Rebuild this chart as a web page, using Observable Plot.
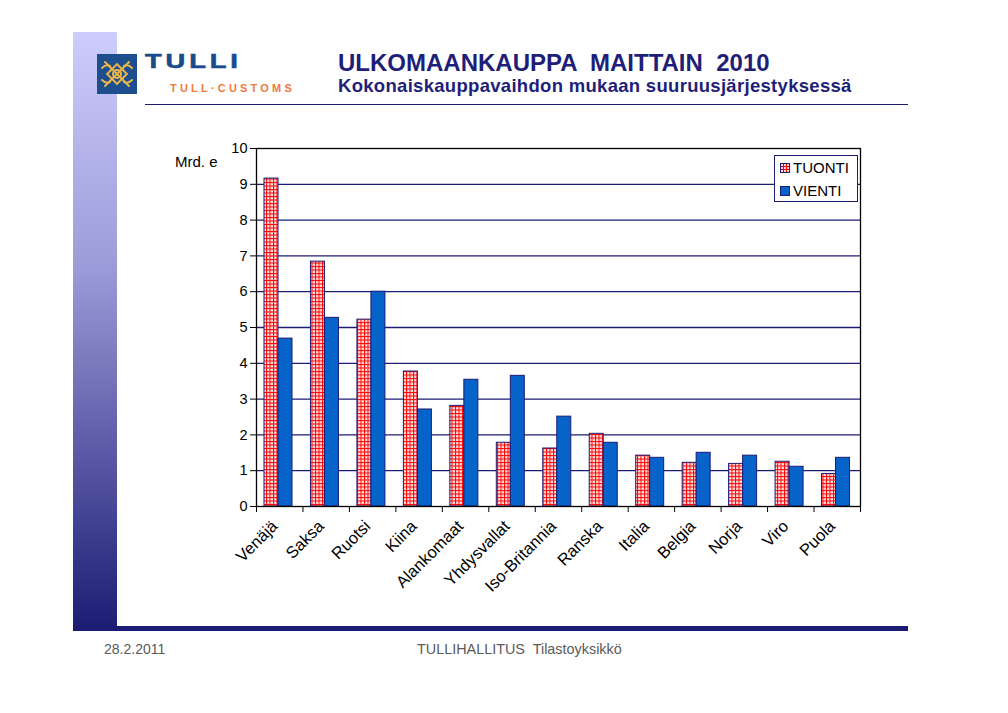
<!DOCTYPE html>
<html>
<head>
<meta charset="utf-8">
<script src="https://cdn.jsdelivr.net/npm/d3@7"></script>
<script src="https://cdn.jsdelivr.net/npm/@observablehq/plot@0.6"></script>
<style>
  html, body { margin: 0; padding: 0; background: #fff; }
  #page { position: relative; width: 1008px; height: 713px; overflow: hidden; background: #fff;
          font-family: "Liberation Sans", Arial, sans-serif; }
  #page > svg { position: absolute; left: 0; top: 0; }
  .abs { position: absolute; z-index: 2; }
  .narrow { font-family: "Liberation Sans Narrow", "Liberation Sans", Arial, sans-serif; }
  #page g[aria-label="x-axis tick label"] { font-size: 16.5px; }
  #page g[aria-label="y-axis tick label"] { font-size: 14.5px; }
</style>
</head>
<body>
<div id="page">
  <div class="abs" style="left:73px;top:32px;width:44px;height:598px;background:linear-gradient(to bottom,#cdcdfd 0%,#9a9ad8 40%,#50509e 75%,#1c1c74 100%);"></div>
  <div class="abs" style="left:73px;top:626px;width:835px;height:5px;background:#1c1c74;"></div>
  <div class="abs" style="left:145px;top:104px;width:763px;height:1px;background:#1c1c74;"></div>

  <svg class="abs" style="left:97px;top:54px" width="40" height="40" viewBox="0 0 40 40">
    <rect width="40" height="40" fill="#1d4f8f"/>
    <g stroke="#e9b54a" stroke-width="2" fill="none" stroke-linecap="round">
      <line x1="8" y1="8" x2="32" y2="32"/>
      <line x1="32" y1="8" x2="8" y2="32"/>
      <rect x="13" y="13" width="14" height="14" transform="rotate(45 20 20)"/>
      <circle cx="20" cy="20" r="4"/>
      <path d="M5 14 Q9 10 13 12 M35 14 Q31 10 27 12 M5 26 Q9 30 13 28 M35 26 Q31 30 27 28"/>
    </g>
  </svg>
  <div class="abs" style="left:145px;top:47px;font-weight:bold;font-size:21px;letter-spacing:3px;color:#1a4a8c;line-height:28px;transform:scaleX(1.3);transform-origin:left top;-webkit-text-stroke:0.6px #1a4a8c;">TULLI</div>
  <div class="abs" style="left:170px;top:82px;font-weight:bold;font-size:11px;letter-spacing:3.2px;color:#f07a3a;line-height:13px;">TULL·CUSTOMS</div>

  <div class="abs" style="left:338px;top:49px;font-weight:bold;font-size:24px;color:#1f1f7a;line-height:27px;white-space:pre;">ULKOMAANKAUPPA  MAITTAIN  2010</div>
  <div class="abs" style="left:338px;top:76px;font-weight:bold;font-size:18.5px;letter-spacing:0.3px;color:#1f1f7a;line-height:20px;white-space:pre;">Kokonaiskauppavaihdon mukaan suuruusjärjestyksessä</div>

  <div class="abs" style="left:175px;top:153px;font-size:15px;color:#000;line-height:17px;">Mrd. e</div>

  <div class="abs" style="left:774px;top:155px;width:82px;height:45px;border:1px solid #1c1c74;background:#fff;font-size:15px;color:#000;">
    <svg style="position:absolute;left:5px;top:7px" width="10" height="10"><rect x="0.5" y="0.5" width="9" height="9" fill="url(#tuontiPatternL)" stroke="#1c1c74"/>
      <defs><pattern id="tuontiPatternL" width="3" height="3" patternUnits="userSpaceOnUse"><rect width="3" height="3" fill="#ffe0e0"/><rect width="1" height="3" fill="#ff0000"/><rect width="3" height="1" fill="#ff0000"/></pattern></defs></svg>
    <div style="position:absolute;left:18px;top:3px;line-height:17px;">TUONTI</div>
    <svg style="position:absolute;left:5px;top:30px" width="10" height="10"><rect x="0.5" y="0.5" width="9" height="9" fill="#0563c9" stroke="#1c1c74"/></svg>
    <div style="position:absolute;left:18px;top:26px;line-height:17px;">VIENTI</div>
  </div>

  <div class="abs narrow" style="left:104px;top:641px;font-size:14px;color:#5a5a5a;line-height:17px;">28.2.2011</div>
  <div class="abs narrow" style="left:417px;top:641px;font-size:14.4px;color:#5a5a5a;line-height:17px;white-space:pre;">TULLIHALLITUS  Tilastoyksikkö</div>
</div>
<script>
const countries = ["Venäjä","Saksa","Ruotsi","Kiina","Alankomaat","Yhdysvallat","Iso-Britannia","Ranska","Italia","Belgia","Norja","Viro","Puola"];
const tuonti = [9.16, 6.84, 5.22, 3.77, 2.81, 1.78, 1.62, 2.03, 1.42, 1.22, 1.19, 1.25, 0.91];
const vienti = [4.69, 5.27, 6.00, 2.71, 3.54, 3.65, 2.51, 1.78, 1.36, 1.50, 1.42, 1.11, 1.36];
const yTicks = [0, 1, 2, 3, 4, 5, 6, 7, 8, 9, 10];

const W = 1008, H = 713, ML = 256, MR = 148, MT = 148, MB = 207;
const bw = (W - ML - MR) / countries.length;
const rows = countries.map((c, i) => ({country: c, tuonti: tuonti[i], vienti: vienti[i]}));
const navy = "#1c1c74";

const chart = Plot.plot({
  width: W, height: H,
  marginLeft: ML, marginRight: MR, marginTop: MT, marginBottom: MB,
  style: {background: "transparent", fontFamily: "'Liberation Sans', Arial, sans-serif", fontSize: "14px", color: "#000", overflow: "visible"},
  x: {type: "band", domain: countries, padding: 0, round: false, label: null},
  y: {domain: [0, 10], label: null},
  marks: [
    Plot.gridY(yTicks.slice(1, -1), {stroke: navy, strokeOpacity: 1, strokeWidth: 1.3}),
    Plot.rectY(rows, {x: "country", y: "tuonti", fill: "url(#tuontiPattern)", stroke: navy, strokeWidth: 1, insetLeft: 8, insetRight: bw - 22}),
    Plot.rectY(rows, {x: "country", y: "vienti", fill: "#0563c9", stroke: navy, strokeWidth: 1, insetLeft: 22, insetRight: bw - 36}),
    Plot.frame({stroke: "#000", strokeWidth: 1.3}),
    Plot.axisY({ticks: yTicks, tickSize: 6, tickPadding: 3, label: null, fontSize: 14.5}),
    Plot.axisX({tickSize: 6, tickFormat: () => "", dx: -bw / 2, label: null}),
    Plot.axisX({ticks: [countries[countries.length - 1]], tickSize: 6, tickFormat: () => "", dx: bw / 2, label: null}),
    Plot.axisX({tickSize: 0, tickRotate: -45, tickPadding: 8, dx: -5, dy: 9, label: null, fontSize: 16.5})
  ]
});
const ns = "http://www.w3.org/2000/svg";
const defs = document.createElementNS(ns, "defs");
defs.innerHTML = '<pattern id="tuontiPattern" width="3.5" height="3.5" patternUnits="userSpaceOnUse"><rect width="3.5" height="3.5" fill="#ffe0e0"/><rect width="1" height="3.5" fill="#ff0000"/><rect width="3.5" height="1" fill="#ff0000"/></pattern>';
chart.insertBefore(defs, chart.firstChild);
document.getElementById("page").insertBefore(chart, document.getElementById("page").firstChild);
</script>
</body>
</html>
